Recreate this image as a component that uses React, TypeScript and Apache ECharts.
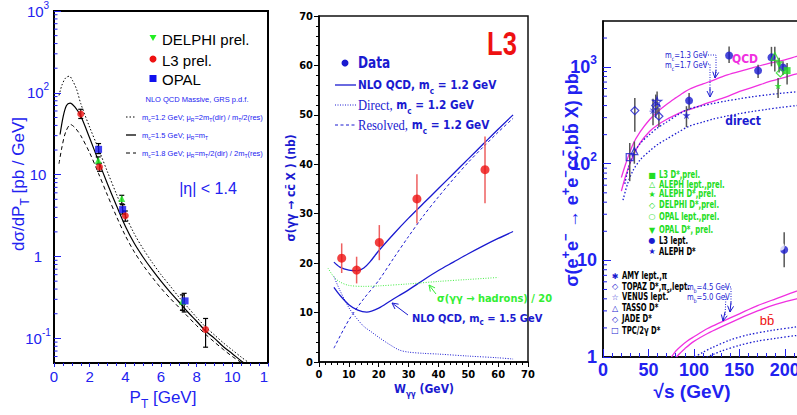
import React, { useEffect, useRef } from 'react';
import * as echarts from 'echarts';

const FONT = '"Liberation Sans", Arial, Helvetica, sans-serif';
const NARROW = '"Liberation Sans Narrow", "DejaVu Sans Condensed", "Liberation Sans", Arial, sans-serif';
const SERIF = '"Liberation Serif", "Times New Roman", serif';
const BLUE = '#2222f0';
const DBLUE = '#1a1ad0';
const GREEN = '#22dd22';
const RED = '#ee1111';
const MAGENTA = '#f030e0';

// ---------- Panel 1: dsigma/dPT (pb/GeV) vs PT ----------
const p1Dotted: [number, number][] = [[0.28,93],[0.45,125],[0.65,152],[0.86,160],[1.05,140],[1.27,110],[1.5,74],[2,38],[2.5,20.5],[3,10.8],[3.5,5.8],[4,3.2],[4.5,1.9],[5,1.24],[5.5,0.85],[6,0.6],[6.5,0.44],[7,0.32],[7.5,0.24],[8,0.18],[8.5,0.138],[9,0.11],[9.5,0.088],[10,0.072],[10.5,0.059],[11,0.049]];
const p1Solid: [number, number][] = [[0.34,31],[0.52,52],[0.7,70],[0.9,75],[1.18,67],[1.5,52],[2,28],[2.5,14.6],[3,7.7],[3.5,4.2],[4,2.35],[4.5,1.45],[5,0.98],[5.5,0.69],[6,0.5],[6.5,0.37],[7,0.28],[7.5,0.21],[8,0.162],[8.5,0.123],[9,0.1],[9.5,0.079],[10,0.065],[10.5,0.053],[10.8,0.048]];
const p1Dashed: [number, number][] = [[0.28,13.6],[0.45,22],[0.65,33],[0.93,41],[1.2,37],[1.5,30],[2,18.5],[2.5,10.3],[3,5.6],[3.5,3.1],[4,1.8],[4.5,1.14],[5,0.78],[5.5,0.56],[6,0.41],[6.5,0.31],[7,0.24],[7.5,0.185],[8,0.143],[8.5,0.112],[9,0.09],[9.5,0.073],[10,0.06],[10.6,0.049]];
const p1L3: [number, number][] = [[1.5,55],[2.55,12.4],[4.0,3.15],[8.5,0.128]];
const p1OPAL: [number, number][] = [[2.5,20.4],[3.85,3.75],[7.35,0.287]];
const p1DELPHI: [number, number][] = [[2.48,15],[3.8,5.1],[7.2,0.285]];
const p1Errors: [number, number, number][] = [[1.5,48.6,63],[2.55,11,13.8],[4.0,2.7,3.6],[8.5,0.078,0.175],[2.5,18.1,24],[3.85,3.3,4.3],[7.3,0.21,0.355],[2.48,13.5,16.5],[3.8,4.4,5.6],[7.2,0.22,0.34]];
const p1MinorY = [0.06,0.07,0.08,0.09,0.2,0.3,0.4,0.5,0.6,0.7,0.8,0.9,2,3,4,5,6,7,8,9,20,30,40,50,60,70,80,90,200,300,400,500,600,700,800,900];

// ---------- Panel 2: sigma(gg -> cc X) (nb) vs W ----------
const p2W = [7.6, 12.6, 20.2, 32.8, 55.6];
const p2Sigma = [21, 18.6, 24.2, 33, 38.9];
const p2ErrLow = [18, 15.9, 20.6, 28, 32.1];
const p2ErrHigh = [24, 21.3, 27.7, 38, 45.6];
const p2Nlo12: [number, number][] = [[5,20.2],[7,19.2],[10,18.6],[13,18.5],[15,19],[17,20.2],[20,22.5],[25,25.9],[30,29.1],[35,32.1],[40,35.1],[45,38.1],[50,41.1],[55,44.1],[60,47.1],[65,50]];
const p2Direct12: [number, number][] = [[5,17.3],[7,14.5],[10,11],[12,9.3],[15,7.2],[17.3,6.2],[20,5],[24,3.4],[27,2.4],[30,2],[35,1.75],[40,1.6],[50,1.2],[60,0.85],[65,0.6]];
const p2Resolved12: [number, number][] = [[5,2.8],[10,8.5],[15,12.8],[20,16.5],[25,21],[30,25.4],[35,29.6],[40,33.4],[45,37],[50,40.4],[55,43.5],[60,46.5],[65,49.3]];
const p2Nlo15: [number, number][] = [[5,15.1],[7,13.5],[10,11.6],[13,10.5],[16,10.1],[20,10.9],[24,12.4],[30,14.6],[35,16.6],[40,18.5],[45,20.2],[50,21.9],[55,23.5],[60,25],[65,26.4]];
const p2Hadrons: [number, number][] = [[3,19],[5,17.2],[7,16.2],[10,15.5],[15,15.3],[20,15.4],[30,15.8],[40,16.3],[50,16.7],[60,17.1]];

// ---------- Panel 3: sigma(ee -> ee cc,bb X) (pb) vs sqrt(s) ----------
const p3QcdCUp: [number, number][] = [[20.2,72],[25,100],[33,159],[41,215],[51.4,287],[60,345],[69.8,410],[80,480],[88,540],[95,590],[110,670],[121,730],[135,820],[150.4,903],[165,990],[183.5,1100],[200,1190],[213,1290],[220,1330]];
const p3QcdCLow: [number, number][] = [[20.2,52],[25,75],[33,120],[41,165],[51.4,217],[60,252],[69.8,287],[80,320],[88,349],[95,363],[110,410],[121,443],[135,490],[150.4,562],[165,620],[183.5,710],[200,785],[213,850],[220,880]];
const p3DirCUp: [number, number][] = [[24,62],[28,90],[33,125],[41,162],[51,200],[60,235],[70,270],[82,320],[95,370],[110,400],[121,420],[135,445],[150,470],[165,495],[180,515],[195,535],[213,555],[220,562]];
const p3DirCLow: [number, number][] = [[22,42],[27,62],[33,85],[41,110],[51,135],[60,158],[70,180],[82,210],[95,245],[110,270],[121,290],[135,310],[150,330],[165,348],[180,365],[195,382],[213,400],[220,406]];
const p3QcdBUp: [number, number][] = [[75.3,1],[80,1.15],[85,1.28],[92,1.45],[100,1.62],[115,1.97],[130,2.3],[150,2.8],[170,3.4],[190,4.0],[213,4.8],[220,5.0]];
const p3QcdBLow: [number, number][] = [[80.8,1],[85,1.1],[90,1.22],[100,1.45],[115,1.75],[130,2.05],[150,2.5],[170,3.0],[190,3.5],[213,4.0],[220,4.15]];
const p3DirBUp: [number, number][] = [[101,1],[110,1.12],[120,1.25],[140,1.5],[160,1.7],[185,1.88],[213,2.05],[220,2.09]];
const p3DirBLow: [number, number][] = [[114,1],[122,1.07],[130,1.15],[150,1.32],[170,1.46],[190,1.56],[213,1.67],[220,1.7]];
const p3L3Lept: [number, number][] = [[94.7,450],[138.7,1320],[170.6,920],[185.3,1260],[198,990],[199.3,12.9]];
const p3AlephDstarOld: [number, number][] = [[91.8,318]];
const p3L3Dstar: [number, number][] = [[202.5,920]];
const p3AlephLept: [number, number][] = [[189,1290]];
const p3AlephDstar: [number, number][] = [[192.6,640]];
const p3DelphiDstar: [number, number][] = [[195,870]];
const p3OpalLept: [number, number][] = [[195.6,13.9]];
const p3OpalDstar: [number, number][] = [[193.7,1060]];
const p3Amy: [number, number][] = [[55,350]];
const p3Topaz: [number, number][] = [[58,400],[61.5,310]];
const p3Venus: [number, number][] = [[59.5,440]];
const p3Tasso: [number, number][] = [[34.5,135]];
const p3Jade: [number, number][] = [[35,355]];
const p3Tpc: [number, number][] = [[29.4,117]];
const p3Errors: [number, number, number][] = [[94.7,363,540],[138.7,1100,1630],[170.6,770,1060],[185.3,1020,1620],[198,830,1150],[199.3,8.5,19.5],[91.8,239,394],[202.5,660,1100],[189,900,1620],[192.6,480,770],[193.7,880,1250],[55,250,470],[58,300,520],[61.5,240,380],[59.5,330,560],[34.5,100,170],[35,214,480],[29.4,66,164]];
const p3MinorY = [2,3,4,5,6,7,8,9,20,30,40,50,60,70,80,90,200,300,400,500,600,700,800,900,2000];

const STAR = 'path://M5,0 L6.2,3.6 L10,3.6 L6.9,5.9 L8.1,9.5 L5,7.3 L1.9,9.5 L3.1,5.9 L0,3.6 L3.8,3.6 Z';
const DOWNTRI = 'path://M0,0 L10,0 L5,9 Z';
const ASTER = 'path://M4.4,0h1.2v10h-1.2z M0,4.4h10v1.2h-10z M1,1.8L1.8,1 9,8.2 8.2,9z M8.2,1 9,1.8 1.8,9 1,8.2z';

function T(x: number, y: number, text: string, o: any = {}) {
  const fs = o.size || 12;
  const fam = o.family || FONT;
  const fw = o.weight || 'normal';
  const fill = o.color || '#000';
  const sub = { fontSize: Math.round(fs * 0.7), fontFamily: fam, fontWeight: fw, fill, lineHeight: Math.round(fs * 0.8), verticalAlign: 'bottom' };
  const sup = { fontSize: Math.round(fs * 0.7), fontFamily: fam, fontWeight: fw, fill, lineHeight: Math.round(fs * 0.8), verticalAlign: 'top' };
  return {
    type: 'text', x, y, rotation: o.rot || 0, scaleX: o.sx || 1, z: 20,
    style: {
      text, fill, fontSize: fs, fontFamily: fam, fontWeight: fw,
      align: o.align || 'left', verticalAlign: 'middle', lineHeight: Math.round(fs * 1.5),
      rich: {
        sub, sup,
        serif: { fontSize: fs + 1, fontFamily: SERIF, fontWeight: 'normal', fill, lineHeight: Math.round(fs * 1.5) },
      },
    },
  };
}

function arrow(x1: number, y1: number, x2: number, y2: number, color: string, dash?: any) {
  const dx = x2 - x1, dy = y2 - y1, L = Math.hypot(dx, dy);
  const ux = dx / L, uy = dy / L, h = 6, w = 3;
  return [
    { type: 'line', z: 20, shape: { x1, y1, x2, y2 }, style: { stroke: color, lineWidth: 1, lineDash: dash } },
    { type: 'polyline', z: 20, shape: { points: [[x2 - h * ux + w * uy, y2 - h * uy - w * ux], [x2, y2], [x2 - h * ux - w * uy, y2 - h * uy + w * ux]] }, style: { stroke: color, fill: null, lineWidth: 1 } },
  ];
}

function sample(x1: number, x2: number, y: number, color: string, dash: any, width = 1) {
  return { type: 'line', z: 20, shape: { x1, y1: y, x2, y2: y }, style: { stroke: color, lineWidth: width, lineDash: dash } };
}

function logFmt(v: number) {
  const l = Math.log10(v);
  const e = Math.round(l);
  if (Math.abs(l - e) > 1e-6) return '';
  if (e === 0) return '1';
  if (e === 1) return '10';
  return '10{s|' + e + '}';
}

function errRender(color: string, width: number, cap: number) {
  return (params: any, api: any) => {
    const x = api.value(0);
    const lo = api.coord([x, api.value(1)]);
    const hi = api.coord([x, api.value(2)]);
    const st = { stroke: color, lineWidth: width };
    const children: any[] = [{ type: 'line', shape: { x1: lo[0], y1: lo[1], x2: hi[0], y2: hi[1] }, style: st }];
    if (cap > 0) {
      children.push({ type: 'line', shape: { x1: lo[0] - cap, y1: lo[1], x2: lo[0] + cap, y2: lo[1] }, style: st });
      children.push({ type: 'line', shape: { x1: hi[0] - cap, y1: hi[1], x2: hi[0] + cap, y2: hi[1] }, style: st });
    }
    return { type: 'group', children };
  };
}

function minorTickRender(color: string, len: number) {
  return (params: any, api: any) => {
    const p = api.coord([api.value(0), api.value(1)]);
    return { type: 'line', shape: { x1: p[0], y1: p[1], x2: p[0] + len, y2: p[1] }, style: { stroke: color, lineWidth: 1 } };
  };
}

function line(data: any, xi: number, color: string, type: any, width = 1, smooth: any = 0.3) {
  return {
    type: 'line', xAxisIndex: xi, yAxisIndex: xi, data, showSymbol: false, smooth, silent: true,
    lineStyle: { color, width, type }, z: 3,
  };
}

function scatter(data: any, xi: number, symbol: string, size: number, color: string, hollow = false) {
  return {
    type: 'scatter', xAxisIndex: xi, yAxisIndex: xi, data, symbol, symbolSize: size, z: 5,
    itemStyle: hollow ? { color: 'transparent', borderColor: color, borderWidth: 1.2 } : { color },
  };
}

export default function App() {
  const ref = useRef<HTMLDivElement>(null);
  useEffect(() => {
    if (!ref.current) return;
    const chart = echarts.init(ref.current, undefined, { renderer: 'svg' });

    const graphics: any[] = [
      // clip of panel-1 "12" label
      { type: 'rect', z: 30, shape: { x: 268.5, y: 366, width: 20, height: 20 }, style: { fill: '#fff' } },
      // Panel 1 legend
      { type: 'polygon', z: 20, shape: { points: [[149.5, 35], [156.5, 35], [153, 41]] }, style: { fill: '#22ee22' } },
      T(162, 39, 'DELPHI prel.', { size: 15 }),
      { type: 'circle', z: 20, shape: { cx: 153, cy: 59, r: 3.5 }, style: { fill: RED } },
      T(162, 60, 'L3 prel.', { size: 15 }),
      { type: 'rect', z: 20, shape: { x: 149.5, y: 75, width: 7, height: 7 }, style: { fill: '#1010ee' } },
      T(162, 79, 'OPAL', { size: 15 }),
      T(197, 99, 'NLO QCD Massive, GRS p.d.f.', { size: 7.5, color: BLUE, align: 'center' }),
      sample(126, 136, 117, '#000', [1.5, 2]),
      sample(126, 136, 135, '#000', null, 1.3),
      sample(126, 136, 153, '#000', [4, 3]),
      T(142, 117, 'm{sub|c}=1.2 GeV; μ{sub|R}=2m{sub|T}(dir) / m{sub|T}/2(res)', { size: 7.5, color: BLUE }),
      T(142, 135, 'm{sub|c}=1.5 GeV; μ{sub|R}=m{sub|T}', { size: 7.5, color: BLUE }),
      T(142, 153, 'm{sub|c}=1.8 GeV; μ{sub|R}=m{sub|T}/2(dir) / 2m{sub|T}(res)', { size: 7.5, color: BLUE }),
      T(208, 188, '|η| < 1.4', { size: 16, color: BLUE, align: 'center' }),
      T(18, 184, 'dσ/dP{sub|T} [pb / GeV]', { size: 17, color: BLUE, rot: Math.PI / 2, align: 'center' }),
      T(163, 397, 'P{sub|T} [GeV]', { size: 17, color: BLUE, align: 'center' }),

      // Panel 2
      T(502, 43, 'L3', { size: 34, weight: 'bold', color: RED, align: 'center', sx: 0.75 }),
      { type: 'circle', z: 20, shape: { cx: 345, cy: 63, r: 3.5 }, style: { fill: DBLUE } },
      T(358, 63, 'Data', { size: 15, weight: 'bold', color: DBLUE, family: NARROW, sx: 0.9 }),
      sample(335, 356, 85, DBLUE, null, 1.3),
      sample(335, 356, 105, DBLUE, [1, 1.5]),
      sample(335, 356, 125, DBLUE, [3, 2.5]),
      T(358, 85, 'NLO QCD, m{sub|c} = 1.2 GeV', { size: 13, weight: 'bold', color: DBLUE, family: NARROW, sx: 0.9 }),
      T(358, 105, '{serif|Direct,} m{sub|c} = 1.2 GeV', { size: 13, weight: 'bold', color: DBLUE, family: NARROW, sx: 0.9 }),
      T(358, 125, '{serif|Resolved,} m{sub|c} = 1.2 GeV', { size: 13, weight: 'bold', color: DBLUE, family: NARROW, sx: 0.9 }),
      T(437, 298, 'σ(γγ → hadrons) / 20', { size: 11, weight: 'bold', color: '#33ee33', family: NARROW }),
      ...arrow(436, 294, 429, 285, '#33ee33'),
      T(412, 318, 'NLO QCD, m{sub|c} = 1.5 GeV', { size: 11, weight: 'bold', color: DBLUE, family: NARROW }),
      ...arrow(408, 315, 392, 303, DBLUE),
      T(291, 188, 'σ(γγ → cc̄ X ) (nb)', { size: 12, weight: 'bold', color: DBLUE, rot: Math.PI / 2, align: 'center', family: NARROW }),
      T(424, 389, 'W{sub|γγ} (GeV)', { size: 12, weight: 'bold', color: DBLUE, align: 'center', family: NARROW }),

      // Panel 3
      T(572, 180, 'σ(e{sup|+}e{sup|−} → e{sup|+}e{sup|−}cc̄,bb̄ X) pb', { size: 18, weight: 'bold', color: BLUE, rot: Math.PI / 2, align: 'center' }),
      T(692, 391, '√s (GeV)', { size: 19, weight: 'bold', color: BLUE, align: 'center' }),
      T(745, 59, 'QCD', { size: 12, weight: 'bold', color: MAGENTA, align: 'center', family: NARROW }),
      T(743, 121, 'direct', { size: 12, weight: 'bold', color: DBLUE, align: 'center', family: NARROW }),
      T(767, 320, 'bb̄', { size: 13, color: RED, align: 'center' }),
      T(665, 55, 'm{sub|c}=1.3 GeV', { size: 9, color: DBLUE, family: NARROW, sx: 0.85 }),
      T(665, 65, 'm{sub|c}=1.7 GeV', { size: 9, color: DBLUE, family: NARROW, sx: 0.85 }),
      { type: 'polyline', z: 20, shape: { points: [[703, 55], [716, 55], [716, 74]] }, style: { stroke: DBLUE, lineWidth: 1, lineDash: [1, 1.5], fill: null } },
      ...arrow(716, 70, 715, 78, DBLUE),
      { type: 'polyline', z: 20, shape: { points: [[703, 64], [710, 64], [710, 92]] }, style: { stroke: DBLUE, lineWidth: 1, lineDash: [1, 1.5], fill: null } },
      ...arrow(710, 88, 710, 97, DBLUE),
      T(687, 287, 'm{sub|b}=4.5 GeV', { size: 9, color: DBLUE, family: NARROW, sx: 0.85 }),
      T(687, 297, 'm{sub|b}=5.0 GeV', { size: 9, color: DBLUE, family: NARROW, sx: 0.85 }),
      { type: 'polyline', z: 20, shape: { points: [[725, 287], [731, 287], [731, 306]] }, style: { stroke: DBLUE, lineWidth: 1, lineDash: [1, 1.5], fill: null } },
      ...arrow(731, 302, 730, 312, DBLUE),
      { type: 'polyline', z: 20, shape: { points: [[724, 296], [726, 296], [725, 316]] }, style: { stroke: DBLUE, lineWidth: 1, lineDash: [1, 1.5], fill: null } },
      ...arrow(725, 312, 723, 321, DBLUE),
    ];

    const leg1 = [
      ['■', 'L3 D*,prel.', GREEN, GREEN, 175],
      ['△', 'ALEPH lept.,prel.', GREEN, GREEN, 184.5],
      ['★', 'ALEPH D*,prel.', GREEN, GREEN, 194],
      ['◇', 'DELPHI D*,prel.', GREEN, GREEN, 205],
      ['○', 'OPAL lept.,prel.', GREEN, GREEN, 216.5],
      ['▼', 'OPAL D*, prel.', GREEN, GREEN, 230],
      ['●', 'L3 lept.', DBLUE, '#000', 240.5],
      ['★', 'ALEPH D*', DBLUE, '#000', 251.5],
    ];
    leg1.forEach(([m, t, mc, tc, y]: any) => {
      graphics.push(T(652, y, m, { size: 8, color: mc, align: 'center', family: '"DejaVu Sans", sans-serif' }));
      graphics.push(T(659, y, t, { size: 10, weight: 'bold', color: tc, family: NARROW, sx: 0.76 }));
    });
    const leg2 = [
      ['✱', 'AMY lept.,π', 276],
      ['◇', 'TOPAZ D*,π{sub|s},lept.', 286.5],
      ['☆', 'VENUS lept.', 297],
      ['△', 'TASSO D*', 308],
      ['◇', 'JADE D*', 319],
      ['□', 'TPC/2γ D*', 330.5],
    ];
    leg2.forEach(([m, t, y]: any) => {
      graphics.push(T(615, y, m, { size: 8, color: DBLUE, align: 'center', family: '"DejaVu Sans", sans-serif' }));
      graphics.push(T(622, y, t, { size: 10, weight: 'bold', color: '#000', family: NARROW, sx: 0.76 }));
    });

    const axLine = (w: number) => ({ onZero: false, lineStyle: { color: '#000', width: w } });

    const option: any = {
      animation: false,
      backgroundColor: '#fff',
      grid: [
        { left: 54, top: 11, width: 214, height: 352, show: true, borderColor: '#000', borderWidth: 2, backgroundColor: 'transparent', outerBoundsMode: 'none', containLabel: false },
        { left: 319, top: 16, width: 209, height: 346, show: true, borderColor: '#111', borderWidth: 1.5, backgroundColor: 'transparent', outerBoundsMode: 'none', containLabel: false },
        { left: 603, top: 21, width: 200, height: 336, show: true, borderColor: '#000', borderWidth: 1.5, backgroundColor: 'transparent', outerBoundsMode: 'none', containLabel: false },
      ],
      xAxis: [
        {
          gridIndex: 0, type: 'value', min: 0, max: 12, interval: 2, axisLine: axLine(2),
          axisTick: { show: true, inside: false, length: 4, lineStyle: { color: BLUE } },
          minorTick: { show: true, splitNumber: 4, length: 3, lineStyle: { color: BLUE } },
          axisLabel: { color: BLUE, fontSize: 15, fontFamily: FONT, margin: 6 },
          splitLine: { show: false },
        },
        {
          gridIndex: 1, type: 'value', min: 0, max: 70, interval: 10, axisLine: axLine(1.5),
          axisTick: { show: true, inside: false, length: 5, lineStyle: { color: '#000' } },
          minorTick: { show: true, splitNumber: 5, length: 3, lineStyle: { color: '#000' } },
          axisLabel: { color: '#000', fontSize: 11, fontWeight: 'bold', fontFamily: NARROW, margin: 7 },
          splitLine: { show: false },
        },
        {
          gridIndex: 2, type: 'value', min: 0, max: 220, interval: 50, axisLine: axLine(1.5),
          axisTick: { show: true, inside: true, length: 8, lineStyle: { color: BLUE } },
          minorTick: { show: true, splitNumber: 5, length: 4, lineStyle: { color: BLUE } },
          axisLabel: { color: BLUE, fontSize: 18, fontWeight: 'bold', fontFamily: FONT, margin: 4, formatter: (v: number) => (v % 50 === 0 ? String(v) : '') },
          splitLine: { show: false },
        },
      ],
      yAxis: [
        {
          gridIndex: 0, type: 'log', logBase: 10, min: 0.05, max: 1000, axisLine: axLine(2),
          axisTick: { show: true, inside: true, length: 7, lineStyle: { color: BLUE } },
          axisLabel: {
            color: BLUE, fontSize: 15, fontFamily: FONT, margin: 16, align: 'center', lineHeight: 22,
            formatter: logFmt, showMinLabel: false,
            rich: { s: { fontSize: 10, fontFamily: FONT, color: BLUE, lineHeight: 10, verticalAlign: 'top' } },
          },
          splitLine: { show: false },
        },
        {
          gridIndex: 1, type: 'value', min: 0, max: 70, interval: 10, axisLine: axLine(1.5),
          axisTick: { show: true, inside: false, length: 5, lineStyle: { color: '#000' } },
          minorTick: { show: true, splitNumber: 5, length: 3, lineStyle: { color: '#000' } },
          axisLabel: { color: '#000', fontSize: 11, fontWeight: 'bold', fontFamily: NARROW, margin: 6 },
          splitLine: { show: false },
        },
        {
          gridIndex: 2, type: 'log', logBase: 10, min: 1, max: 3000, axisLine: axLine(1.5),
          axisTick: { show: true, inside: true, length: 8, lineStyle: { color: BLUE } },
          axisLabel: {
            color: BLUE, fontSize: 18, fontWeight: 'bold', fontFamily: FONT, margin: 6, lineHeight: 26,
            formatter: logFmt, showMaxLabel: false,
            rich: { s: { fontSize: 12, fontWeight: 'bold', fontFamily: FONT, color: BLUE, lineHeight: 12, verticalAlign: 'top' } },
          },
          splitLine: { show: false },
        },
      ],
      graphic: graphics,
      series: [
        // Panel 1
        line(p1Dotted, 0, '#000', [1.5, 2]),
        line(p1Solid, 0, '#000', 'solid', 1.2),
        line(p1Dashed, 0, '#000', [4, 3]),
        { type: 'custom', xAxisIndex: 0, yAxisIndex: 0, data: p1MinorY.map((v) => [0, v]), renderItem: minorTickRender(BLUE, 3.5), clip: false, silent: true, z: 4 },
        { type: 'custom', xAxisIndex: 0, yAxisIndex: 0, data: p1Errors, renderItem: errRender('#000', 1.2, 2.5), silent: true, z: 4 },
        scatter(p1DELPHI, 0, 'triangle', 7, '#22ee22'),
        scatter(p1OPAL, 0, 'rect', 7, '#1010ee'),
        scatter(p1L3, 0, 'circle', 7, RED),

        // Panel 2
        line(p2Nlo12, 1, DBLUE, 'solid', 1.3),
        line(p2Direct12, 1, DBLUE, [1, 1.5], 1),
        line(p2Resolved12, 1, DBLUE, [3, 2.5], 1),
        line(p2Nlo15, 1, DBLUE, 'solid', 1.3),
        line(p2Hadrons, 1, '#44ee44', [1, 1.5], 1),
        { type: 'custom', xAxisIndex: 1, yAxisIndex: 1, data: p2W.map((w, i) => [w, p2ErrLow[i], p2ErrHigh[i]]), renderItem: errRender('#ee6060', 1.5, 0), silent: true, z: 4 },
        scatter(p2W.map((w, i) => [w, p2Sigma[i]]), 1, 'circle', 9, RED),

        // Panel 3
        line(p3QcdCUp, 2, MAGENTA, 'solid', 1.3),
        line(p3QcdCLow, 2, MAGENTA, 'solid', 1.3),
        line(p3DirCUp, 2, DBLUE, [1.5, 2], 1.3),
        line(p3DirCLow, 2, DBLUE, [1.5, 2], 1.3),
        line(p3QcdBUp, 2, MAGENTA, 'solid', 1.3),
        line(p3QcdBLow, 2, MAGENTA, 'solid', 1.3),
        line(p3DirBUp, 2, DBLUE, [1.5, 2], 1.3),
        line(p3DirBLow, 2, DBLUE, [1.5, 2], 1.3),
        { type: 'custom', xAxisIndex: 2, yAxisIndex: 2, data: p3MinorY.map((v) => [0, v]), renderItem: minorTickRender(BLUE, 4), clip: false, silent: true, z: 4 },
        { type: 'custom', xAxisIndex: 2, yAxisIndex: 2, data: p3Errors, renderItem: errRender('#555', 1.5, 0), silent: true, z: 4 },
        scatter(p3Tpc, 2, 'rect', 7, DBLUE, true),
        scatter(p3Tasso, 2, 'triangle', 7, DBLUE, true),
        scatter(p3Jade, 2, 'diamond', 8, DBLUE, true),
        scatter(p3Amy, 2, ASTER, 7, DBLUE),
        scatter(p3Topaz, 2, 'diamond', 8, DBLUE, true),
        scatter(p3Venus, 2, STAR, 9, DBLUE, true),
        scatter(p3AlephDstarOld, 2, STAR, 8, DBLUE),
        scatter(p3L3Lept, 2, 'circle', 8, DBLUE),
        scatter(p3AlephLept, 2, 'triangle', 8, GREEN, true),
        scatter(p3OpalDstar, 2, DOWNTRI, 7, GREEN),
        scatter(p3DelphiDstar, 2, 'diamond', 8, GREEN, true),
        scatter(p3AlephDstar, 2, STAR, 7, GREEN),
        scatter(p3L3Dstar, 2, 'rect', 7, GREEN),
        scatter(p3OpalLept, 2, 'emptyCircle', 8, GREEN, true),
      ],
    };
    chart.setOption(option);
    return () => chart.dispose();
  }, []);
  return <div ref={ref} style={{ width: 797, height: 415, position: 'absolute', left: 0, top: 0 }} />;
}
